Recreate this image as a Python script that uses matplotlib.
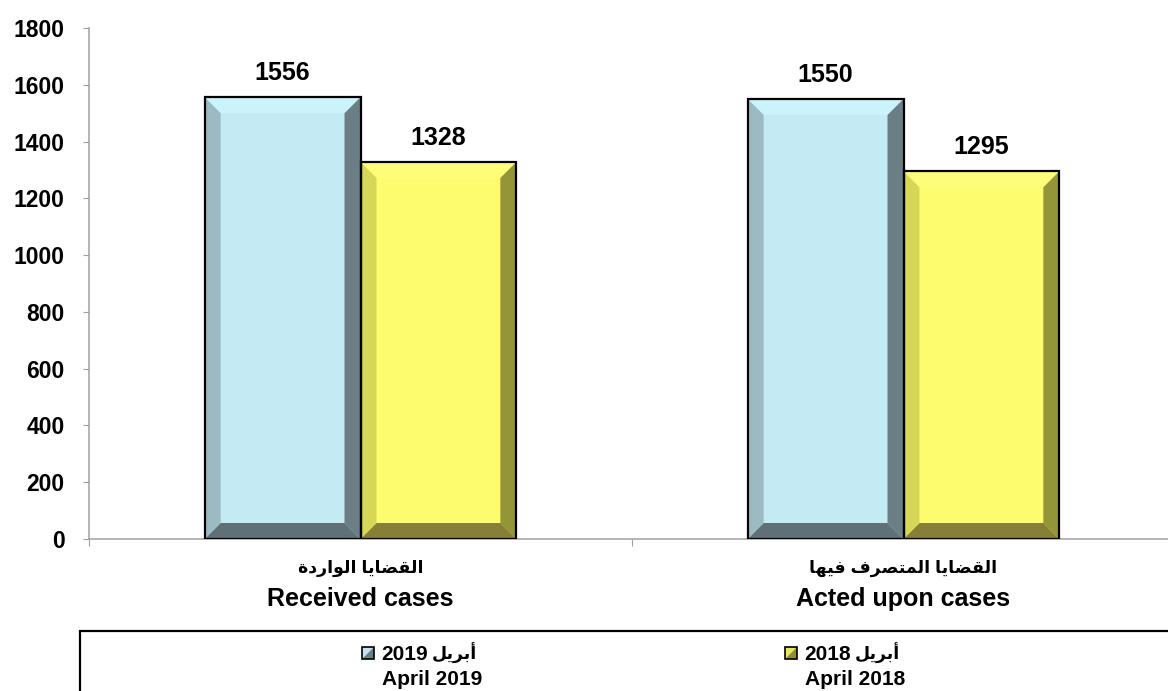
import numpy as np
import matplotlib
matplotlib.use("Agg")
import matplotlib.pyplot as plt
from matplotlib.patches import Polygon, Rectangle

plt.rcParams['font.family'] = ['Liberation Sans', 'DejaVu Sans']
plt.rcParams['font.weight'] = 'bold'

# data
categories_ar = ["القضايا الواردة", "القضايا المتصرف فيها"]
categories_en = ["Received cases", "Acted upon cases"]
values_2019 = [1556, 1550]
values_2018 = [1328, 1295]
series_ar = ["أبريل", "أبريل"]
series_year = ["2019", "2018"]
series_en = ["April 2019", "April 2018"]

# very small arabic shaper (presentation forms, visual order) since matplotlib has no bidi
FORMS = {
    'ا': ('\uFE8D', '\uFE8E', None, None),
    'أ': ('\uFE83', '\uFE84', None, None),
    'ب': ('\uFE8F', '\uFE90', '\uFE91', '\uFE92'),
    'ت': ('\uFE95', '\uFE96', '\uFE97', '\uFE98'),
    'ة': ('\uFE93', '\uFE94', None, None),
    'د': ('\uFEA9', '\uFEAA', None, None),
    'ر': ('\uFEAD', '\uFEAE', None, None),
    'ص': ('\uFEB9', '\uFEBA', '\uFEBB', '\uFEBC'),
    'ض': ('\uFEBD', '\uFEBE', '\uFEBF', '\uFEC0'),
    'ف': ('\uFED1', '\uFED2', '\uFED3', '\uFED4'),
    'ق': ('\uFED5', '\uFED6', '\uFED7', '\uFED8'),
    'ل': ('\uFEDD', '\uFEDE', '\uFEDF', '\uFEE0'),
    'م': ('\uFEE1', '\uFEE2', '\uFEE3', '\uFEE4'),
    'ه': ('\uFEE9', '\uFEEA', '\uFEEB', '\uFEEC'),
    'و': ('\uFEED', '\uFEEE', None, None),
    'ي': ('\uFEF1', '\uFEF2', '\uFEF3', '\uFEF4'),
}


def shape(text):
    out = []
    for i, c in enumerate(text):
        if c not in FORMS:
            out.append(c)
            continue
        prev = text[i - 1] if i > 0 else ' '
        nxt = text[i + 1] if i < len(text) - 1 else ' '
        join_prev = prev in FORMS and FORMS[prev][2] is not None
        join_next = nxt in FORMS and FORMS[c][2] is not None
        iso, fin, ini, med = FORMS[c]
        if join_prev and join_next:
            out.append(med)
        elif join_prev:
            out.append(fin)
        elif join_next:
            out.append(ini)
        else:
            out.append(iso)
    return ''.join(out)[::-1]


blue = dict(face='#c4ebf4', top='#cbf3fb', left='#9bbac2', right='#6b7e86', bottom='#5f7077')
yellow = dict(face='#fcfc6e', top='#fdfd7a', left='#d7d757', right='#949438', bottom='#857f38')

fig = plt.figure(figsize=(11.68, 6.91), dpi=100)
ax = fig.add_axes([89 / 1168, 152 / 691, 1086 / 1168, 511 / 691])

x = np.arange(len(categories_en))
w = 0.287
ax.set_xlim(-0.5, 1.5)
ax.set_ylim(0, 1800)


def bevel_bars(xs, vals, pal):
    bars = ax.bar(xs, vals, w, color=pal['face'], linewidth=0, zorder=2)
    b = 16
    inv = ax.transData.inverted()
    for r in bars:
        (X0, Y0), (X1, Y1) = ax.transData.transform([(r.get_x(), 0), (r.get_x() + r.get_width(), r.get_height())])
        pieces = {
            'top': [(X0, Y1), (X1, Y1), (X1 - b, Y1 - b), (X0 + b, Y1 - b)],
            'bottom': [(X0, Y0), (X1, Y0), (X1 - b, Y0 + b), (X0 + b, Y0 + b)],
            'left': [(X0, Y0), (X0 + b, Y0 + b), (X0 + b, Y1 - b), (X0, Y1)],
            'right': [(X1, Y0), (X1 - b, Y0 + b), (X1 - b, Y1 - b), (X1, Y1)],
        }
        for k, pts in pieces.items():
            ax.add_patch(Polygon(inv.transform(pts), closed=True, facecolor=pal[k], edgecolor='none', zorder=3))
    ax.bar(xs, vals, w, fill=False, edgecolor='black', linewidth=1.6, zorder=4)
    for xc, v in zip(xs, vals):
        ax.annotate(str(v), (xc, v), xytext=(0, 12.5), textcoords='offset points',
                    ha='center', va='baseline', fontsize=18, fontweight='bold')


bevel_bars(x - w / 2, values_2019, blue)
bevel_bars(x + w / 2, values_2018, yellow)

# axes styling
for s in ['top', 'right']:
    ax.spines[s].set_visible(False)
for s in ['left', 'bottom']:
    ax.spines[s].set_color('#a0a0a0')
    ax.spines[s].set_linewidth(1.1)
ax.set_yticks(range(0, 1801, 200))
ax.tick_params(axis='y', direction='out', length=4.5, color='#a0a0a0', pad=13, labelsize=16.5)
ax.set_xticks([-0.5, 0.5, 1.5])
ax.set_xticklabels([])
ax.tick_params(axis='x', direction='out', length=5, color='#a0a0a0')
for lab in ax.get_yticklabels():
    lab.set_fontweight('bold')

# category labels (arabic + english)
for i in range(len(categories_en)):
    ax.annotate(shape(categories_ar[i]), (x[i], 0), xycoords=('data', 'axes fraction'),
                xytext=(0, -24.5), textcoords='offset points', ha='center', va='baseline',
                fontsize=12.5, fontweight='bold', annotation_clip=False)
    ax.annotate(categories_en[i], (x[i], 0), xycoords=('data', 'axes fraction'),
                xytext=(0, -48), textcoords='offset points', ha='center', va='baseline',
                fontsize=18, fontweight='bold', annotation_clip=False)

# legend box drawn by hand
fig.add_artist(Rectangle((80 / 1168, -0.1), 1.2, 60 / 691 + 0.1, transform=fig.transFigure,
                         fill=False, edgecolor='black', linewidth=1.6))
leg_x = [362, 785]
leg_cols = [('#c0e4ee', '#6b7f87'), ('#e6e65c', '#8e8e36')]
for i in range(2):
    sx = leg_x[i]
    light, dark = leg_cols[i]
    x0, y0, s = sx / 1168, (691 - 659) / 691, 12
    sw, sh = s / 1168, s / 691
    fig.add_artist(Polygon([(x0, y0), (x0, y0 + sh), (x0 + sw, y0 + sh)], closed=True,
                           transform=fig.transFigure, facecolor=light, edgecolor='none'))
    fig.add_artist(Polygon([(x0, y0), (x0 + sw, y0), (x0 + sw, y0 + sh)], closed=True,
                           transform=fig.transFigure, facecolor=dark, edgecolor='none'))
    fig.add_artist(Rectangle((x0, y0), sw, sh, transform=fig.transFigure,
                             fill=False, edgecolor='black', linewidth=1.2))
    tx = (sx + 19) / 1168
    fig.text(tx, (691 - 660) / 691, series_year[i],
             ha='left', va='baseline', fontsize=15, fontweight='bold')
    fig.text(tx + 51 / 1168, (691 - 660) / 691, shape(series_ar[i]),
             ha='left', va='baseline', fontsize=12.5, fontweight='bold')
    fig.text(tx + 1 / 1168, (691 - 685) / 691, series_en[i],
             ha='left', va='baseline', fontsize=15, fontweight='bold')

fig.savefig('out.png', dpi=100)
